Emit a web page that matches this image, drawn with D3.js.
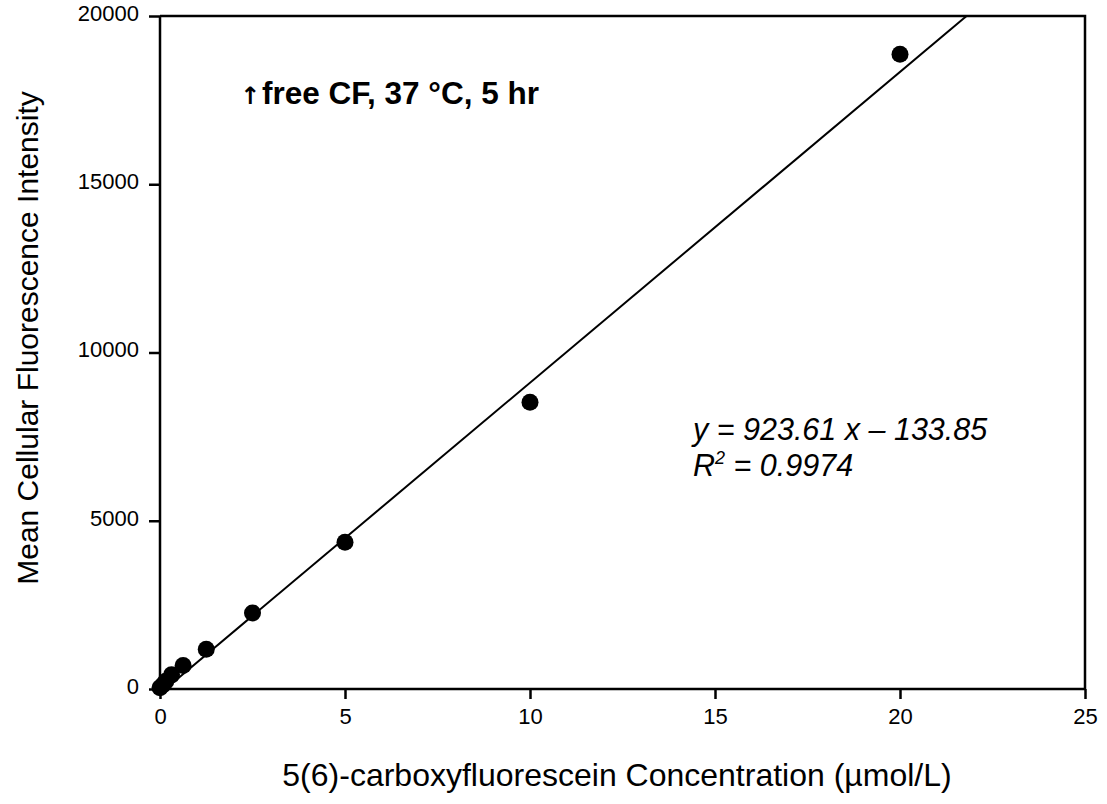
<!DOCTYPE html>
<html>
<head>
<meta charset="utf-8">
<script src="https://cdn.jsdelivr.net/npm/d3@7"></script>
<style>
  html, body { margin: 0; padding: 0; background: #fff; }
  svg { display: block; font-family: "Liberation Sans", Arial, sans-serif; }
</style>
</head>
<body>
<svg id="chart" width="1107" height="804"></svg>
<script>
// Calibration: 5(6)-carboxyfluorescein concentration vs. mean cellular fluorescence
const concentrations = [0, 0.078, 0.156, 0.3125, 0.625, 1.25, 2.5, 5, 10, 20];
const intensities    = [40, 120, 230, 420, 700, 1180, 2260, 4360, 8520, 18860];

const xTicks = [0, 5, 10, 15, 20, 25];
const yTicks = [0, 5000, 10000, 15000, 20000];

// Linear fit reported on the chart
const fitSlope = 923.61;
const fitIntercept = -133.85;
const fitR2 = 0.9974;

const xTitle = "5(6)-carboxyfluorescein Concentration (\u00b5mol/L)";
const yTitle = "Mean Cellular Fluorescence Intensity";
const noteText = "free CF, 37 \u00b0C, 5 hr";

const svg = d3.select("#chart");
const plot = { left: 160, right: 1085, top: 16, bottom: 689 };

const x = d3.scaleLinear().domain([0, 25]).range([plot.left, plot.right]);
const y = d3.scaleLinear().domain([0, 20000]).range([plot.bottom, plot.top]);

svg.append("clipPath").attr("id", "plot-clip")
  .append("rect")
  .attr("x", plot.left).attr("y", plot.top)
  .attr("width", plot.right - plot.left).attr("height", plot.bottom - plot.top);

// Fitted line, clipped to the frame
const fitX0 = -fitIntercept / fitSlope;
const fitX1 = (20000 - fitIntercept) / fitSlope;
svg.append("line")
  .attr("clip-path", "url(#plot-clip)")
  .attr("x1", x(fitX0)).attr("y1", y(fitSlope * fitX0 + fitIntercept))
  .attr("x2", x(fitX1)).attr("y2", y(fitSlope * fitX1 + fitIntercept))
  .attr("stroke", "#000").attr("stroke-width", 2);

// Data points
svg.append("g").selectAll("circle")
  .data(concentrations.map((c, i) => ({ c, v: intensities[i] })))
  .join("circle")
  .attr("cx", d => x(d.c))
  .attr("cy", d => y(d.v))
  .attr("r", 8.5)
  .attr("fill", "#000");

// Axes
const xAxis = d3.axisBottom(x).tickValues(xTicks).tickSize(10).tickPadding(9).tickFormat(d3.format("d"));
const yAxis = d3.axisLeft(y).tickValues(yTicks).tickSize(11).tickPadding(10).tickFormat(d3.format("d"));

const gx = svg.append("g").attr("transform", `translate(0,${plot.bottom})`).call(xAxis);
const gy = svg.append("g").attr("transform", `translate(${plot.left},0)`).call(yAxis);

[gx, gy].forEach(g => {
  g.select(".domain").attr("stroke", "#000").attr("stroke-width", 2.5);
  g.selectAll(".tick line").attr("stroke", "#000").attr("stroke-width", 2.5);
  g.selectAll(".tick text")
    .attr("fill", "#000")
    .style("font-family", "'Liberation Sans', Arial, sans-serif")
    .style("font-size", "22px");
});
gx.select(".domain").attr("d", `M${plot.left},0H${plot.right}`);
gy.select(".domain").attr("d", `M0,${plot.bottom}V${plot.top}`);
gy.selectAll(".tick text").attr("dy", "0.2em");

// Top and right borders of the frame
svg.append("path")
  .attr("d", `M${plot.left},${plot.top}H${plot.right}V${plot.bottom}`)
  .attr("fill", "none").attr("stroke", "#000").attr("stroke-width", 2.5);

// Axis titles
svg.append("text")
  .attr("x", 617)
  .attr("y", 786)
  .attr("text-anchor", "middle")
  .style("font-size", "32px")
  .text(xTitle);

svg.append("text")
  .attr("transform", `translate(38,${338}) rotate(-90)`)
  .attr("text-anchor", "middle")
  .style("font-size", "30px")
  .text(yTitle);

// Condition note
const note = svg.append("text")
  .attr("x", 240).attr("y", 104)
  .style("font-size", "31.5px")
  .style("font-weight", "bold");
note.append("tspan").style("font-family", "'DejaVu Sans', sans-serif").style("font-size", "24px").text("\u2191");
note.append("tspan").attr("x", 262).text(noteText);

// Fit equation
const eq = svg.append("g").style("font-style", "italic").style("font-size", "30.5px");
eq.append("text").attr("x", 693).attr("y", 440)
  .text(`y = ${fitSlope} x \u2013 ${Math.abs(fitIntercept)}`);
const r2 = eq.append("text").attr("x", 693).attr("y", 476);
r2.append("tspan").text("R");
r2.append("tspan").attr("dy", -12).style("font-size", "18px").text("2");
r2.append("tspan").attr("dy", 12).text(` = ${fitR2}`);
</script>
</body>
</html>
